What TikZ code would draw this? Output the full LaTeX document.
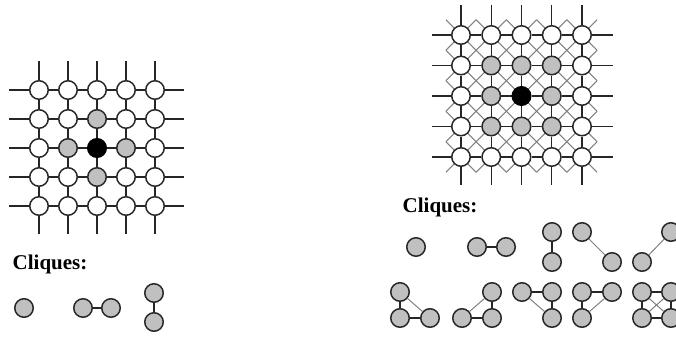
\documentclass[tikz,border=0pt]{standalone}
\usepackage{fontspec}
\setmainfont{Liberation Serif}
\usetikzlibrary{backgrounds}
\definecolor{fillg}{RGB}{192,192,192}
\definecolor{rimc}{RGB}{40,40,40}
\definecolor{diagc}{RGB}{128,128,128}
\tikzset{
  nd/.style={circle,minimum size=18.5pt,inner sep=0pt,line width=1.5pt,draw=rimc},
  wn/.style={nd,fill=white},
  gn/.style={nd,fill=fillg},
  bn/.style={nd,fill=black,draw=black},
  edge/.style={line width=1.1pt,draw=black!85},
  dg/.style={line width=1pt,draw=diagc},
  title/.style={font=\bfseries\fontsize{21}{21}\selectfont,anchor=base west,inner sep=0pt}
}
\begin{document}
\begin{tikzpicture}[x=1pt,y=-1pt]
\useasboundingbox (0,0) rectangle (676,337);
\begin{scope}
\clip (0,0) rectangle (676,337);
% ---------- left grid ----------
\foreach \i in {0,...,4}{
  \foreach \j in {0,...,4}{
    \pgfmathtruncatemacro\d{abs(\i-2)+abs(\j-2)}
    \ifcase\d
      \node[bn] (L-\i-\j) at ({39+29*\i},{90+29*\j}) {};
    \or
      \node[gn] (L-\i-\j) at ({39+29*\i},{90+29*\j}) {};
    \else
      \node[wn] (L-\i-\j) at ({39+29*\i},{90+29*\j}) {};
    \fi
  }
  \coordinate (LW-\i) at (9,{90+29*\i});
  \coordinate (LE-\i) at (184,{90+29*\i});
  \coordinate (LN-\i) at ({39+29*\i},61);
  \coordinate (LS-\i) at ({39+29*\i},234);
}
\begin{scope}[on background layer]
\foreach \a in {0,...,4}{
  \draw[edge] (LW-\a) -- (L-0-\a);
  \draw[edge] (L-4-\a) -- (LE-\a);
  \draw[edge] (LN-\a) -- (L-\a-0);
  \draw[edge] (L-\a-4) -- (LS-\a);
  \foreach \b [evaluate=\b as \c using int(\b+1)] in {0,...,3}{
    \draw[edge] (L-\b-\a) -- (L-\c-\a);
    \draw[edge] (L-\a-\b) -- (L-\a-\c);
  }
}
\end{scope}
% ---------- right grid ----------
\foreach \i in {0,...,4}{
  \foreach \j in {0,...,4}{
    \pgfmathtruncatemacro\d{max(abs(\i-2),abs(\j-2))}
    \ifcase\d
      \node[bn] (R-\i-\j) at ({461+30.25*\i},{35+30.5*\j}) {};
    \or
      \node[gn] (R-\i-\j) at ({461+30.25*\i},{35+30.5*\j}) {};
    \else
      \node[wn] (R-\i-\j) at ({461+30.25*\i},{35+30.5*\j}) {};
    \fi
  }
  \coordinate (RW-\i) at (432,{35+30.5*\i});
  \coordinate (RE-\i) at (613,{35+30.5*\i});
  \coordinate (RN-\i) at ({461+30.25*\i},5);
  \coordinate (RS-\i) at ({461+30.25*\i},185);
}
\begin{scope}[on background layer]
% diagonal (8-neighbour) lattice, grey
\foreach \k in {-4,...,4}{
  \pgfmathsetmacro\ia{max(0,\k)-0.5}
  \pgfmathsetmacro\ib{min(4,4+\k)+0.5}
  \draw[dg] ({461+30.25*\ia},{35+30.5*(\ia-\k)}) -- ({461+30.25*\ib},{35+30.5*(\ib-\k)});
}
\foreach \k in {0,...,8}{
  \pgfmathsetmacro\ia{max(0,\k-4)-0.5}
  \pgfmathsetmacro\ib{min(4,\k)+0.5}
  \draw[dg] ({461+30.25*\ia},{35+30.5*(\k-\ia)}) -- ({461+30.25*\ib},{35+30.5*(\k-\ib)});
}
\foreach \a in {0,...,4}{
  \draw[edge] (RW-\a) -- (R-0-\a);
  \draw[edge] (R-4-\a) -- (RE-\a);
  \draw[edge] (RN-\a) -- (R-\a-0);
  \draw[edge] (R-\a-4) -- (RS-\a);
  \foreach \b [evaluate=\b as \c using int(\b+1)] in {0,...,3}{
    \draw[edge] (R-\b-\a) -- (R-\c-\a);
    \draw[edge] (R-\a-\b) -- (R-\a-\c);
  }
}
\end{scope}
% ---------- titles ----------
\node[title] (t1) at (12.5,269) {Cliques:};
\node[title] (t2) at (402.5,212) {Cliques:};
% ---------- left cliques ----------
\node[gn] (a1) at (24,308) {};
\node[gn] (a2) at (83,308) {};
\node[gn] (a3) at (111,308) {};
\draw[edge] (a2) -- (a3);
\node[gn] (a4) at (154,293) {};
\node[gn] (a5) at (154,322) {};
\draw[edge] (a4) -- (a5);
% ---------- right cliques, row 1 ----------
\node[gn] (b1) at (416,247) {};
\node[gn] (b2) at (477,247) {};
\node[gn] (b3) at (506,247) {};
\draw[edge] (b2) -- (b3);
\node[gn] (b4) at (552,232) {};
\node[gn] (b5) at (552,262) {};
\draw[edge] (b4) -- (b5);
\node[gn] (b6) at (582,232) {};
\node[gn] (b7) at (612,262) {};
\draw[dg] (b6) -- (b7);
\node[gn] (b8) at (642,262) {};
\node[gn] (b9) at (671,232) {};
\draw[dg] (b8) -- (b9);
% ---------- right cliques, row 2 ----------
\node[gn] (c1) at (400,292) {};
\node[gn] (c2) at (400,318) {};
\node[gn] (c3) at (430,318) {};
\draw[edge] (c1) -- (c2);
\draw[edge] (c2) -- (c3);
\draw[dg] (c1) -- (c3);
\node[gn] (d1) at (492,292) {};
\node[gn] (d2) at (462,318) {};
\node[gn] (d3) at (492,318) {};
\draw[edge] (d1) -- (d3);
\draw[edge] (d2) -- (d3);
\draw[dg] (d2) -- (d1);
\node[gn] (e1) at (522,292) {};
\node[gn] (e2) at (552,292) {};
\node[gn] (e3) at (552,318) {};
\draw[edge] (e1) -- (e2);
\draw[edge] (e2) -- (e3);
\draw[dg] (e1) -- (e3);
\node[gn] (f1) at (582,292) {};
\node[gn] (f2) at (612,292) {};
\node[gn] (f3) at (582,318) {};
\draw[edge] (f1) -- (f2);
\draw[edge] (f1) -- (f3);
\draw[dg] (f2) -- (f3);
\node[gn] (g1) at (642,292) {};
\node[gn] (g2) at (671,292) {};
\node[gn] (g3) at (642,318) {};
\node[gn] (g4) at (671,318) {};
\draw[edge] (g1) -- (g2);
\draw[edge] (g3) -- (g4);
\draw[edge] (g1) -- (g3);
\draw[edge] (g2) -- (g4);
\draw[dg] (g1) -- (g4);
\draw[dg] (g2) -- (g3);
\end{scope}
\end{tikzpicture}
\end{document}
